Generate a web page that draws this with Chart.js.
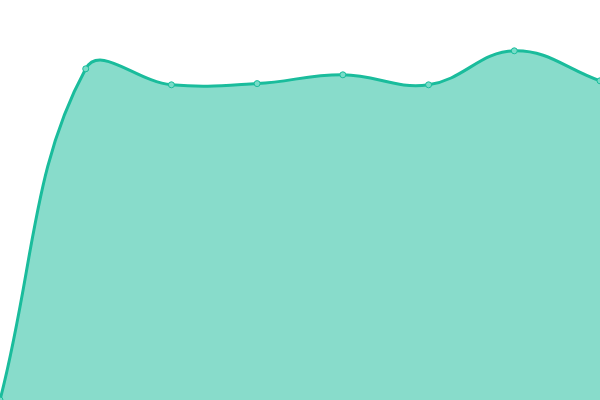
<!DOCTYPE html>
<html>
<head>
<meta charset="utf-8">
<script src="https://cdn.jsdelivr.net/npm/chart.js@4"></script>
<style>
  html, body { margin: 0; padding: 0; background: #fff; }
  #wrap { width: 600px; height: 400px; }
</style>
</head>
<body>
<div id="wrap"><canvas id="chart"></canvas></div>
<script>
const labels = ['1', '2', '3', '4', '5', '6', '7', '8'];
const values = [0, 82.8, 78.8, 79.1, 81.3, 78.8, 87.3, 79.8];

new Chart(document.getElementById('chart'), {
    type: 'line',
    data: {
        labels,
        datasets: [{
            data: values,
            fill: true,
            tension: 0.4,
            borderColor: '#1abc9c',
            backgroundColor: 'rgba(26,188,156,0.52)',
            borderWidth: 3,
            pointRadius: 3,
            pointBorderWidth: 1,
            pointBackgroundColor: 'rgba(120,220,200,1)',
            pointBorderColor: '#1abc9c'
        }]
    },
    options: {
        responsive: true, maintainAspectRatio: false,
        animation: false,
        layout: { padding: 0, autoPadding: false },
        plugins: { legend: { display: false }, tooltip: { enabled: false } },
        scales: {
            x: { display: false },
            y: { display: false, min: 0, max: 100 }
        }
    }
});
</script>
</body>
</html>
